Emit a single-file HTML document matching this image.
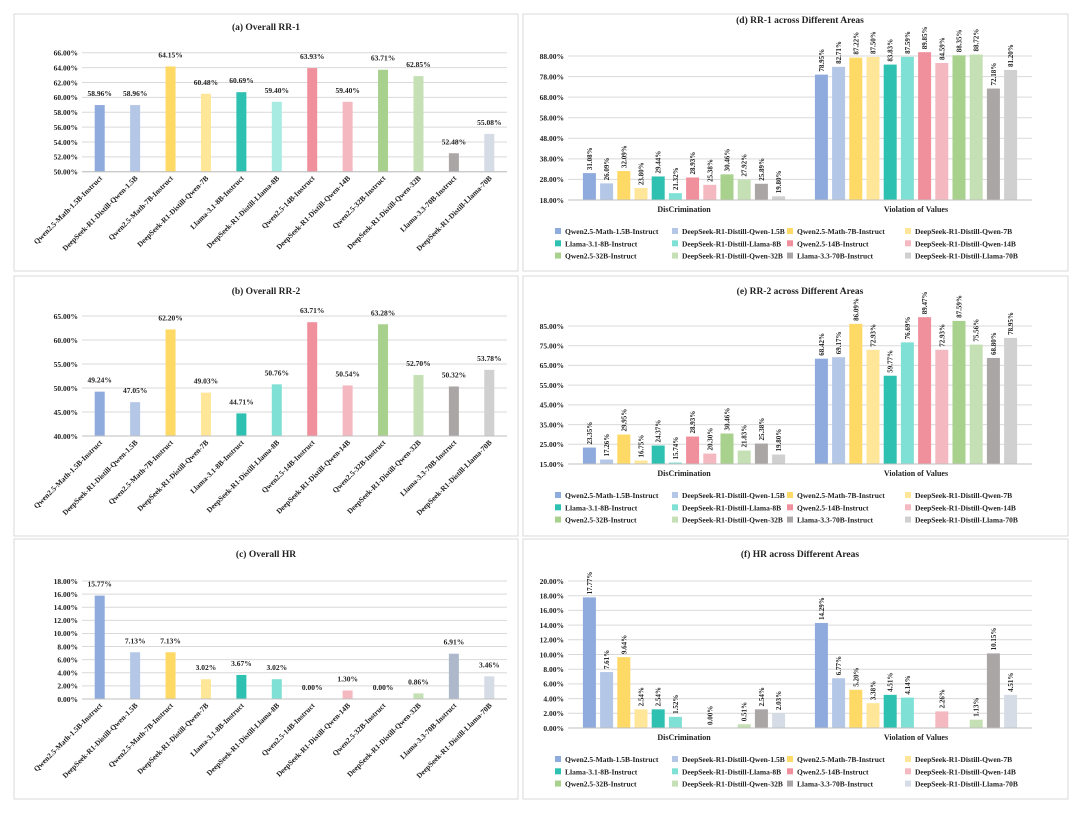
<!DOCTYPE html>
<html><head><meta charset="utf-8">
<style>
html,body{margin:0;padding:0;background:#fff;}
svg{display:block;font-family:"Liberation Serif",serif;font-weight:bold;}
</style></head>
<body>
<svg id="fig" width="1080" height="819" viewBox="0 0 1080 819" xmlns="http://www.w3.org/2000/svg"></svg>
<script>
const models=["Qwen2.5-Math-1.5B-Instruct","DeepSeek-R1-Distill-Qwen-1.5B","Qwen2.5-Math-7B-Instruct","DeepSeek-R1-Distill-Qwen-7B","Llama-3.1-8B-Instruct","DeepSeek-R1-Distill-Llama-8B","Qwen2.5-14B-Instruct","DeepSeek-R1-Distill-Qwen-14B","Qwen2.5-32B-Instruct","DeepSeek-R1-Distill-Qwen-32B","Llama-3.3-70B-Instruct","DeepSeek-R1-Distill-Llama-70B"];
const areas=["DisCrimination","Violation of Values"];
const rr1=[58.96,58.96,64.15,60.48,60.69,59.40,63.93,59.40,63.71,62.85,52.48,55.08];
const rr2=[49.24,47.05,62.20,49.03,44.71,50.76,63.71,50.54,63.28,52.70,50.32,53.78];
const hr=[15.77,7.13,7.13,3.02,3.67,3.02,0,1.30,0,0.86,6.91,3.46];
const dDisc=[31.08,26.09,32.09,23.80,29.44,21.32,28.93,25.38,30.46,27.92,25.89,19.80];
const dViol=[78.95,82.71,87.22,87.50,83.83,87.59,89.85,84.59,88.35,88.72,72.18,81.20];
const eDisc=[23.35,17.26,29.95,16.75,24.37,15.74,28.93,20.30,30.46,21.83,25.38,19.80];
const eViol=[68.42,69.17,86.09,72.93,59.77,76.69,89.47,72.93,87.59,75.56,68.80,78.95];
const fDisc=[17.77,7.61,9.64,2.54,2.54,1.52,0,0,0,0.51,2.54,2.03];
const fViol=[14.29,6.77,5.20,3.38,4.51,4.14,0,2.26,0,1.13,10.15,4.51];
const fDiscShow=[1,1,1,1,1,1,0,1,0,1,1,1];
const fViolShow=[1,1,1,1,1,1,0,1,0,1,1,1];
const ticksA=[50,52,54,56,58,60,62,64,66];
const ticksB=[40,45,50,55,60,65];
const ticksC=[0,2,4,6,8,10,12,14,16,18];
const ticksD=[18,28,38,48,58,68,78,88];
const ticksE=[15,25,35,45,55,65,75,85];
const ticksF=[0,2,4,6,8,10,12,14,16,18,20];

const colors=["#8faadc","#b4c7e7","#ffd966","#ffe699","#2ec0b0","#7fe0d6","#f0909c","#f4b8c1","#a9d18e","#c5e0b4","#aaa6a6","#d0d0d0"];
const NS="http://www.w3.org/2000/svg";
const svg=document.getElementById('fig');
function el(tag,attrs,parent,text){const e=document.createElementNS(NS,tag);for(const k in attrs)e.setAttribute(k,attrs[k]);if(text!==undefined)e.textContent=text;(parent||svg).appendChild(e);return e;}

function panel(x,y,w,h,name){
  const g=el('g',{});
  
  
  const r=el('rect',{x:x,y:y,width:w,height:h,fill:'#fff',stroke:'#d9d9d9','stroke-width':1},g);
  
  
  return g;
}
function title(g,x,y,t){
  const e=el('text',{x:x,y:y,'text-anchor':'middle','font-size':9.5,fill:'#222'},g,t);
  
  
}
function yAxis(g,ticks,yf,x0,x1){
  ticks.forEach(t=>{
    const yy=yf(t);
    const l=el('line',{x1:x0,x2:x1,y1:yy,y2:yy,stroke:'#d9d9d9','stroke-width':1},g);
    
    
    const tx=el('text',{x:x0-4,y:yy+2.8,'text-anchor':'end','font-size':7.5,fill:'#222'},g,t.toFixed(2)+'%');
    
    
  });
}
function overall(g,cfg,vals,cols,ticks){
  const yf=v=>cfg.yb-(v-cfg.min)/(cfg.max-cfg.min)*(cfg.yb-cfg.yt);
  yAxis(g,ticks,yf,cfg.x0,cfg.x1);
  const band=(cfg.x1-cfg.x0)/vals.length;
  vals.forEach((v,i)=>{
    const cx=cfg.x0+band*(i+0.5);
    const top=yf(v);
    const b=el('rect',{x:cx-5,y:top,width:10,height:cfg.yb-top,fill:cols[i]},g);
    
    
    const lb=el('text',{x:cx,y:top-9,'text-anchor':'middle','font-size':7.5,fill:'#222'},g,v.toFixed(2)+'%');
    
    
    const xl=el('text',{x:cx+3,y:cfg.yb+7,'text-anchor':'end','font-size':7.5,fill:'#222',transform:`rotate(-45 ${cx+3} ${cfg.yb+7})`},g,models[i]);
    
    
  });
  const ax=el('line',{x1:cfg.x0,x2:cfg.x1,y1:cfg.yb,y2:cfg.yb,stroke:'#bfbfbf'},g);
  
  
}
function areasChart(g,cfg,series,shows,ticks,cols){
  const yf=v=>cfg.yb-(v-cfg.min)/(cfg.max-cfg.min)*(cfg.yb-cfg.yt);
  yAxis(g,ticks,yf,cfg.x0,cfg.x1);
  const catW=(cfg.x1-cfg.x0)/areas.length;
  series.forEach((vals,c)=>{
    const cc=cfg.x0+catW*(c+0.5);
    vals.forEach((v,i)=>{
      const cx=cc+(i-5.5)*17.2;
      const vv=Math.max(v,cfg.min);
      const top=yf(vv);
      const b=el('rect',{x:cx-6.5,y:top,width:13,height:cfg.yb-top,fill:cols[i]},g);
      
      
      if(!shows||shows[c][i]){
        const lx=cx+2.5,ly=top-3;
        const lb=el('text',{x:lx,y:ly,'text-anchor':'start','font-size':7,fill:'#222',transform:`rotate(-90 ${lx} ${ly})`},g,v.toFixed(2)+'%');
        
        
      }
    });
    const cl=el('text',{x:cc,y:cfg.yb+12,'text-anchor':'middle','font-size':8,fill:'#222'},g,areas[c]);
    
    
  });
  const ax=el('line',{x1:cfg.x0,x2:cfg.x1,y1:cfg.yb,y2:cfg.yb,stroke:'#bfbfbf'},g);
  
  
  const colX=[555,672,787,905];
  models.forEach((m,i)=>{
    const lx=colX[i%4],ly=cfg.legY+Math.floor(i/4)*12.3;
    const lg=el('g',{},g);
    
    
    el('rect',{x:lx,y:ly-5,width:6,height:6,fill:cols[i]},lg);
    el('text',{x:lx+10,y:ly+1,'font-size':7.5,fill:'#222'},lg,m);
  });
}

let g=panel(14,14,504,257,'panel-overall-rr1');
title(g,266,30,'(a) Overall RR-1');
overall(g,{x0:82,x1:507,yt:52.7,yb:171.7,min:50,max:66},rr1,colors.map((c,i)=>i==5?'#a8ebe3':(i==11?'#d6dce5':c)),ticksA);
g=panel(14,276,504,260,'panel-overall-rr2');
title(g,266,294,'(b) Overall RR-2');
overall(g,{x0:82,x1:507,yt:316,yb:436,min:40,max:65},rr2,colors,ticksB);
g=panel(14,539,504,260,'panel-overall-hr');
title(g,266,557,'(c) Overall HR');
overall(g,{x0:82,x1:507,yt:581,yb:699,min:0,max:18},hr,colors.map((c,i)=>i==10?'#adb9ca':(i==11?'#d6dce5':c)),ticksC);
g=panel(523,14,545,257,'panel-rr1-areas');
title(g,800,23,'(d) RR-1 across Different Areas');
areasChart(g,{x0:568,x1:1032,yt:56,yb:200,min:18,max:88,legY:233},[dDisc,dViol],null,ticksD,colors);
g=panel(523,276,545,260,'panel-rr2-areas');
title(g,800,294,'(e) RR-2 across Different Areas');
areasChart(g,{x0:568,x1:1032,yt:326,yb:464,min:15,max:85,legY:497},[eDisc,eViol],null,ticksE,colors);
g=panel(523,539,545,260,'panel-hr-areas');
title(g,800,557,'(f) HR across Different Areas');
areasChart(g,{x0:568,x1:1032,yt:581,yb:728,min:0,max:20,legY:761},[fDisc,fViol],[fDiscShow,fViolShow],ticksF,colors.map((c,i)=>i==11?'#d6dce5':c));
</script>
</body></html>
